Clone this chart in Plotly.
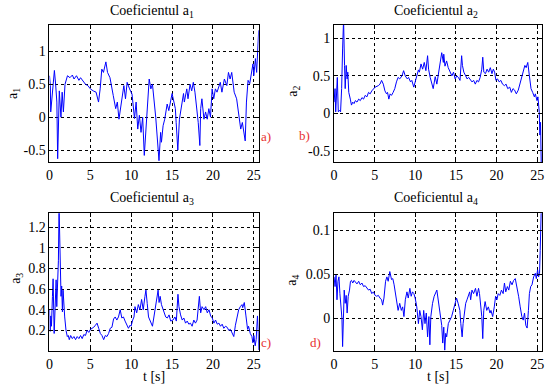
import plotly.graph_objects as go

# ---------------- data ----------------
t1 = [0.0, 0.1, 0.15, 0.5, 0.6, 0.75, 0.9, 1.0, 1.2, 1.4, 1.55, 1.7, 1.9, 2.2, 2.5, 2.8, 3.0, 3.3,
      3.6, 3.8, 4.1, 4.4, 4.7, 5.0, 5.35, 5.7, 6.0, 6.2, 6.4, 6.6, 6.9, 7.1, 7.4, 7.6, 7.8, 8.1,
      8.3, 8.5, 8.8, 9.1, 9.3, 9.5, 9.8, 10.1, 10.4, 10.6, 10.8, 11.0, 11.2, 11.4, 11.6, 11.8,
      12.2, 12.4, 12.6, 13.0, 13.2, 13.4, 13.6, 13.7, 13.9, 14.1, 14.4, 14.6, 15.0, 15.2, 15.4,
      15.5, 15.7, 15.9, 16.2, 16.4, 16.5, 16.8, 16.95, 17.2, 17.4, 17.6, 17.8, 17.95, 18.2, 18.4,
      18.5, 18.65, 18.9, 19.1, 19.3, 19.5, 19.7, 19.9, 20.1, 20.3, 20.5, 20.9, 21.1, 21.4, 21.7,
      21.9, 22.1, 22.3, 22.6, 22.9, 23.2, 23.4, 23.6, 23.8, 23.95, 24.1, 24.3, 24.5, 24.7, 24.9,
      25.0, 25.2, 25.35, 25.5, 25.6]
a1 = [0.63, 0.48, 0.08, 0.68, 0.71, 0.5, 0.23, -0.63, 0.4, 0.0, 0.38, 0.08, 0.5, 0.63, 0.6, 0.64,
      0.58, 0.63, 0.56, 0.6, 0.55, 0.5, 0.48, 0.43, 0.4, 0.38, 0.23, 0.43, 0.73, 0.68, 0.84, 0.68,
      0.6, 0.43, 0.33, 0.13, 0.23, -0.03, 0.23, 0.48, 0.28, 0.53, 0.43, 0.35, -0.02, 0.23, -0.18,
      0.03, -0.23, 0.0, -0.58, -0.23, 0.58, 0.43, 0.5, 0.0, -0.33, -0.66, -0.23, -0.38, -0.13,
      -0.03, 0.2, 0.1, 0.36, 0.25, 0.13, -0.08, -0.5, -0.03, 0.23, 0.36, 0.23, 0.43, 0.28, 0.5,
      0.4, 0.53, 0.38, 0.23, -0.08, -0.43, 0.13, 0.28, -0.03, 0.08, -0.03, 0.13, 0.0, 0.43, 0.28,
      0.43, 0.38, 0.53, 0.38, 0.58, 0.48, 0.68, 0.58, 0.68, 0.38, 0.28, 0.03, -0.18, -0.08, -0.28,
      -0.36, 0.23, 0.56, 0.51, 0.68, 0.81, 0.63, 0.89, 0.68, 1.0, 1.32]

t2 = [0.0, 0.12, 0.2, 0.28, 0.4, 0.52, 0.68, 0.8, 0.93, 1.05, 1.17, 1.29, 1.37, 1.49, 1.61, 1.69,
      1.81, 2.0, 2.14, 2.3, 2.46, 2.62, 2.82, 3.03, 3.23, 3.43, 3.63, 3.83, 4.04, 4.24, 4.44,
      4.64, 4.84, 5.05, 5.45, 5.65, 5.85, 6.06, 6.26, 6.46, 6.58, 6.74, 6.9, 7.07, 7.27, 7.47,
      7.68, 7.88, 8.08, 8.36, 8.56, 8.76, 9.01, 9.17, 9.41, 9.57, 9.81, 9.98, 10.22, 10.38, 10.5,
      10.7, 10.9, 11.1, 11.3, 11.51, 11.63, 11.83, 12.2, 12.45, 12.65, 12.95, 13.25, 13.45, 13.5,
      13.65, 13.85, 14.05, 14.3, 14.5, 14.7, 14.9, 15.1, 15.3, 15.5, 15.7, 15.8, 15.97, 16.2,
      16.37, 16.57, 16.77, 16.97, 17.18, 17.38, 17.58, 17.78, 17.98, 18.18, 18.3, 18.43, 18.63,
      18.83, 19.03, 19.23, 19.43, 19.6, 19.76, 19.92, 20.12, 20.32, 20.53, 20.73, 20.97, 21.17,
      21.37, 21.62, 21.82, 22.02, 22.22, 22.43, 22.67, 22.87, 23.08, 23.28, 23.48, 23.64, 23.84,
      24.04, 24.24, 24.44, 24.65, 24.77, 24.97, 25.09, 25.25, 25.33, 25.41, 25.5]
a2 = [0.15, 0.33, 0.02, 0.26, 0.48, 0.02, 0.04, 0.02, 0.33, 0.86, 1.25, 0.64, 0.33, 0.64, 0.46,
      0.55, 0.28, 0.19, 0.11, 0.15, 0.13, 0.17, 0.15, 0.19, 0.17, 0.21, 0.19, 0.24, 0.22, 0.28,
      0.26, 0.3, 0.33, 0.35, 0.37, 0.39, 0.44, 0.39, 0.3, 0.26, 0.28, 0.19, 0.26, 0.24, 0.28,
      0.33, 0.42, 0.48, 0.46, 0.5, 0.57, 0.5, 0.46, 0.48, 0.42, 0.44, 0.35, 0.42, 0.51, 0.58, 0.55,
      0.66, 0.59, 0.68, 0.57, 0.77, 0.59, 0.48, 0.33, 0.49, 0.39, 0.6, 0.81, 0.68, 0.79, 0.63,
      0.7, 0.61, 0.55, 0.5, 0.55, 0.46, 0.5, 0.48, 0.44, 0.77, 0.64, 0.55, 0.5, 0.46, 0.48, 0.44,
      0.42, 0.44, 0.39, 0.44, 0.42, 0.48, 0.59, 0.75, 0.55, 0.53, 0.59, 0.55, 0.61, 0.53, 0.59,
      0.55, 0.44, 0.46, 0.42, 0.44, 0.39, 0.37, 0.39, 0.33, 0.35, 0.28, 0.33, 0.31, 0.26, 0.31,
      0.39, 0.5, 0.59, 0.64, 0.61, 0.68, 0.5, 0.33, 0.28, 0.22, 0.26, 0.17, 0.22, 0.02, -0.29,
      -0.12, -0.69]

t3 = [0.0, 0.08, 0.16, 0.24, 0.36, 0.44, 0.57, 0.69, 0.81, 0.89, 0.97, 1.09, 1.17, 1.25, 1.33,
      1.41, 1.49, 1.58, 1.66, 1.74, 1.86, 2.02, 2.18, 2.3, 2.42, 2.59, 2.79, 2.99, 3.19, 3.39,
      3.6, 3.8, 4.0, 4.2, 4.4, 4.6, 4.81, 5.01, 5.41, 5.62, 5.82, 6.02, 6.22, 6.42, 6.63, 6.83,
      7.03, 7.23, 7.43, 7.64, 7.84, 8.04, 8.24, 8.44, 8.65, 8.85, 9.05, 9.25, 9.45, 9.66, 9.86,
      9.98, 10.18, 10.34, 10.46, 10.67, 10.87, 11.07, 11.27, 11.47, 11.68, 11.8, 11.96, 12.12,
      12.6, 12.93, 13.09, 13.29, 13.41, 13.54, 13.7, 13.9, 14.06, 14.22, 14.42, 14.63, 14.83,
      15.11, 15.35, 15.52, 15.72, 15.84, 16.04, 16.24, 16.44, 16.65, 16.85, 17.05, 17.25, 17.45,
      17.66, 17.86, 18.06, 18.18, 18.34, 18.5, 18.67, 18.91, 19.11, 19.31, 19.52, 19.72, 19.92,
      20.12, 20.32, 20.53, 20.73, 20.93, 21.13, 21.33, 21.54, 21.74, 21.94, 22.14, 22.34, 22.55,
      22.75, 22.95, 23.15, 23.35, 23.56, 23.64, 23.84, 24.04, 24.24, 24.36, 24.57, 24.77, 24.89,
      25.01, 25.17, 25.29, 25.45, 25.54, 25.6]
a3 = [0.4, 0.19, 0.34, 0.24, 0.53, 0.7, 0.17, 0.4, 0.69, 0.43, 0.59, 0.88, 1.4, 1.01, 0.72,
      0.53, 0.63, 0.38, 0.59, 0.46, 0.33, 0.2, 0.14, 0.15, 0.11, 0.15, 0.12, 0.14, 0.11, 0.14,
      0.12, 0.15, 0.12, 0.16, 0.15, 0.2, 0.18, 0.21, 0.23, 0.25, 0.27, 0.22, 0.17, 0.15, 0.11,
      0.15, 0.14, 0.17, 0.22, 0.23, 0.31, 0.33, 0.3, 0.33, 0.4, 0.32, 0.33, 0.29, 0.26, 0.22, 0.25,
      0.24, 0.3, 0.33, 0.43, 0.37, 0.45, 0.4, 0.5, 0.4, 0.53, 0.59, 0.46, 0.33, 0.24, 0.4, 0.51,
      0.59, 0.47, 0.53, 0.45, 0.4, 0.37, 0.33, 0.32, 0.35, 0.29, 0.3, 0.33, 0.29, 0.55, 0.43,
      0.35, 0.3, 0.32, 0.27, 0.29, 0.26, 0.27, 0.24, 0.3, 0.27, 0.3, 0.4, 0.53, 0.37, 0.43, 0.4,
      0.43, 0.37, 0.4, 0.34, 0.32, 0.27, 0.3, 0.26, 0.27, 0.24, 0.26, 0.22, 0.24, 0.23, 0.2, 0.21,
      0.18, 0.14, 0.25, 0.32, 0.4, 0.43, 0.45, 0.42, 0.47, 0.34, 0.21, 0.24, 0.17, 0.14, 0.08,
      0.15, 0.05, 0.11, 0.34, 0.21, 0.01]

t4 = [0.0, 0.12, 0.24, 0.36, 0.48, 0.6, 0.72, 0.85, 0.97, 1.05, 1.13, 1.25, 1.37, 1.49, 1.61,
      1.74, 1.9, 2.02, 2.14, 2.3, 2.46, 2.62, 2.82, 3.03, 3.23, 3.43, 3.63, 3.83, 4.04, 4.24,
      4.44, 4.64, 4.84, 5.05, 5.25, 5.45, 5.65, 5.85, 5.98, 6.14, 6.34, 6.5, 6.66, 6.86, 7.07,
      7.23, 7.39, 7.55, 7.72, 7.88, 8.08, 8.28, 8.44, 8.6, 8.77, 8.97, 9.13, 9.33, 9.49, 9.65,
      9.82, 9.98, 10.18, 10.38, 10.54, 10.7, 10.87, 11.03, 11.19, 11.35, 11.51, 11.67, 11.79,
      11.91, 12.12, 12.32, 12.65, 12.85, 13.05, 13.25, 13.37, 13.5, 13.62, 13.74, 13.86, 14.06,
      14.26, 14.47, 14.67, 14.87, 15.07, 15.27, 15.48, 15.6, 15.76, 15.88, 16.08, 16.2, 16.36,
      16.48, 16.69, 16.81, 16.97, 17.17, 17.41, 17.58, 17.78, 17.9, 18.06, 18.18, 18.3, 18.42,
      18.59, 18.79, 18.99, 19.19, 19.31, 19.52, 19.72, 19.88, 20.04, 20.2, 20.4, 20.6, 20.81,
      20.97, 21.13, 21.33, 21.5, 21.7, 21.9, 22.1, 22.3, 22.51, 22.71, 22.91, 23.11, 23.28,
      23.44, 23.6, 23.76, 23.92, 24.04, 24.2, 24.36, 24.56, 24.77, 24.89, 25.05, 25.17, 25.29,
      25.37, 25.45, 25.5]
a4 = [0.047, 0.036, 0.049, 0.021, 0.042, 0.047, 0.028, 0.013, 0.0, -0.032, 0.009, 0.032, 0.017,
      0.026, 0.006, 0.025, 0.032, 0.042, 0.043, 0.04, 0.043, 0.041, 0.039, 0.042, 0.038, 0.04,
      0.036, 0.037, 0.034, 0.032, 0.033, 0.028, 0.03, 0.026, 0.025, 0.026, 0.023, 0.021, 0.015,
      0.023, 0.042, 0.047, 0.042, 0.053, 0.044, 0.045, 0.038, 0.028, 0.023, 0.009, 0.017, 0.009,
      0.013, 0.002, 0.021, 0.03, 0.023, 0.034, 0.025, 0.03, 0.028, 0.023, 0.013, -0.006, 0.009,
      0.002, -0.013, 0.009, -0.006, 0.006, -0.021, 0.002, -0.03, 0.002, 0.017, 0.025, 0.032,
      0.017, 0.006, -0.008, -0.028, -0.01, -0.036, -0.017, -0.021, -0.006, -0.002, 0.002, 0.009,
      0.017, 0.023, 0.017, 0.009, -0.006, -0.021, -0.006, 0.009, 0.017, 0.021, 0.025, 0.03, 0.021,
      0.032, 0.028, 0.034, 0.025, 0.034, 0.028, 0.013, 0.002, -0.023, 0.009, 0.019, 0.009, 0.013,
      0.006, 0.009, 0.002, 0.013, 0.025, 0.021, 0.028, 0.026, 0.032, 0.028, 0.04, 0.03, 0.036,
      0.032, 0.042, 0.038, 0.043, 0.045, 0.036, 0.025, 0.013, 0.002, -0.002, 0.006, -0.008,
      -0.011, 0.009, 0.028, 0.036, 0.038, 0.047, 0.051, 0.045, 0.055, 0.047, 0.051, 0.077, 0.1,
      0.125]

titles = ["Coeficientul a<sub>1</sub>", "Coeficientul a<sub>2</sub>",
          "Coeficientul a<sub>3</sub>", "Coeficientul a<sub>4</sub>"]
ylabels = ["a<sub>1</sub>", "a<sub>2</sub>", "a<sub>3</sub>", "a<sub>4</sub>"]
panel_tags = ["a)", "b)", "c)", "d)"]
xlabel = "t [s]"

x_ticks = [0, 5, 10, 15, 20, 25]
y_ticks_12 = [-0.5, 0, 0.5, 1]
y_text_12 = ["-0.5", "0", "0.5", "1"]
y_ticks_3 = [0.2, 0.4, 0.6, 0.8, 1.0, 1.2]
y_text_3 = ["0.2", "0.4", "0.6", "0.8", "1", "1.2"]
y_ticks_4 = [0, 0.05, 0.1]
y_text_4 = ["0", "0.05", "0.1"]

# ---------------- layout helpers ----------------
W, H = 551, 388
FONT = "Liberation Serif"
FS = 14


def px_x(x):
    return x / W


def px_y(y):
    return 1 - y / H


# pixel boxes (left, right, top, bottom)
boxes = [(46, 257.5, 25, 162), (333.7, 544.0, 25, 162),
         (46, 257.5, 213.3, 351), (333.7, 544.0, 213.3, 351)]
yranges = [[-0.68, 1.4], [-0.65, 1.18], [0.0, 1.335], [-0.037, 0.119]]
yticks = [(y_ticks_12, y_text_12), (y_ticks_12, y_text_12),
          (y_ticks_3, y_text_3), (y_ticks_4, y_text_4)]
series = [(t1, a1), (t2, a2), (t3, a3), (t4, a4)]

fig = go.Figure()
layout = dict(width=W, height=H, margin=dict(l=0, r=0, t=0, b=0),
              paper_bgcolor="white", plot_bgcolor="white", showlegend=False,
              font=dict(family=FONT, size=FS, color="black"))
annotations = []

for i, ((tx, ty), (l, r, tp, bt), yr, (tv, tt)) in enumerate(zip(series, boxes, yranges, yticks)):
    n = "" if i == 0 else str(i + 1)
    xa, ya = "x" + n, "y" + n
    fig.add_trace(go.Scatter(x=tx, y=ty, mode="lines", xaxis=xa, yaxis=ya,
                             line=dict(color="#0000ff", width=1), hoverinfo="skip"))
    common = dict(showline=True, linecolor="black", linewidth=1, mirror="ticks",
                  ticks="inside", ticklen=4, tickcolor="black", showgrid=True,
                  gridcolor="black", gridwidth=1, griddash="dot", zeroline=False,
                  tickfont=dict(family=FONT, size=FS, color="black"))
    layout["xaxis" + n] = dict(domain=[px_x(l), px_x(r)], range=[0, 25.6], anchor=ya,
                               tickvals=x_ticks, ticktext=[str(v) for v in x_ticks], **common)
    layout["yaxis" + n] = dict(domain=[px_y(bt), px_y(tp)], range=yr, anchor=xa,
                               tickvals=tv, ticktext=tt, **common)

# titles
title_pos = [(150, 11), (437, 11), (150, 199), (437, 199)]
for (x, y), txt in zip(title_pos, titles):
    annotations.append(dict(x=px_x(x), y=px_y(y), xref="paper", yref="paper", text=txt,
                            showarrow=False, xanchor="center", yanchor="middle",
                            font=dict(family=FONT, size=FS, color="black")))
# y labels
ylab_pos = [(9, 93), (292, 91), (12, 278), (291, 280)]
for (x, y), txt in zip(ylab_pos, ylabels):
    annotations.append(dict(x=px_x(x), y=px_y(y), xref="paper", yref="paper", text=txt,
                            showarrow=False, textangle=-90, xanchor="center", yanchor="middle",
                            font=dict(family=FONT, size=FS, color="black")))
# x labels
for x in (152, 439):
    annotations.append(dict(x=px_x(x), y=px_y(376), xref="paper", yref="paper", text=xlabel,
                            showarrow=False, xanchor="center", yanchor="middle",
                            font=dict(family=FONT, size=FS, color="black")))
# panel tags
tag_pos = [(265, 136), (304, 135), (265, 342), (315, 342)]
for (x, y), txt in zip(tag_pos, panel_tags):
    annotations.append(dict(x=px_x(x), y=px_y(y), xref="paper", yref="paper", text=txt,
                            showarrow=False, xanchor="center", yanchor="middle",
                            font=dict(family=FONT, size=13, color="#e83030")))

layout["annotations"] = annotations
fig.update_layout(**layout)
fig.write_html("out.html", config={"displayModeBar": False},
               post_script="document.body.style.margin='0';document.body.style.overflow='hidden';")
